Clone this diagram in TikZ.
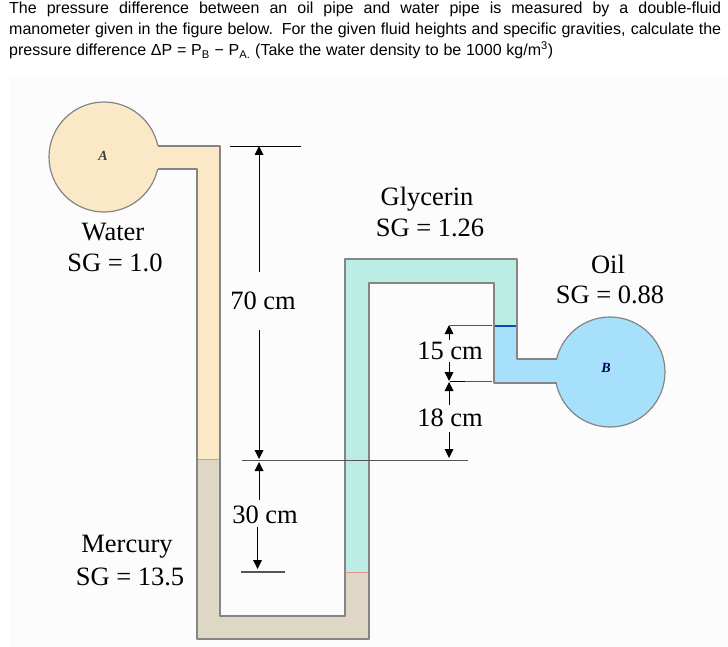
\documentclass[tikz,border=0pt]{standalone}
\usepackage{fontspec}
\setmainfont{Liberation Serif}
\newfontfamily\headfont{Liberation Sans}
\definecolor{waterc}{HTML}{FBE8C6}
\definecolor{glycc}{HTML}{BCEDE4}
\definecolor{oilc}{HTML}{A6E0FA}
\definecolor{mercc}{HTML}{DFD7C5}
\definecolor{wallc}{HTML}{858585}
\definecolor{dimc}{HTML}{555555}

\begin{document}
\begin{tikzpicture}[x=1pt,y=1pt]
\tikzstyle{every node}+=[inner sep=0pt]
\tikzstyle{lab}=[font=\fontsize{26.5}{26.5}\selectfont]
\tikzstyle{wall}=[draw=wallc,line width=1.2pt,line join=round]
\tikzstyle{dimline}=[black,line width=0.8pt]
\tikzstyle{refline}=[dimc,line width=1.7pt]
\tikzstyle{tank}=[circle,draw=wallc,line width=1.2pt,minimum size=110pt]
\tikzstyle{tanklab}=[font=\fontsize{14}{14}\selectfont\bfseries\itshape]
\useasboundingbox (0,-647) rectangle (728,0);
\fill [white] (0,-647) rectangle (728,0);
\fill [black!1] (10,-647) rectangle (728,-78);
\node (head) [anchor=north west,text width=712pt,align=justify,font=\headfont\fontsize{16}{21.2}\selectfont] at (9,-1.5)
{\spaceskip=0.23em plus 10em minus 0.03em
The pressure difference between an oil pipe and water pipe is measured by a double-fluid\linebreak
manometer given in the figure below. For the given fluid heights and specific gravities, calculate the\linebreak
\makebox[544pt][s]{pressure difference ΔP = P\textsubscript{B} − P\textsubscript{A.} (Take the water density to be 1000 kg/m\textsuperscript{3})}};
% tanks
\node (tankA) [tank,fill=waterc] at (104,-157) {};
\node (tankB) [tank,fill=oilc] at (610,-372) {};
\node (labA) [tanklab,text=black!75] at (103,-156) {A};
\node (labB) [tanklab,text=blue!35!black] at (606,-368) {B};
% fluids
\fill [waterc] (150,-146) -- (220,-146) -- (220,-459) -- (197,-459) -- (197,-169) -- (150,-169) -- cycle;
\fill [mercc] (197,-459) -- (220,-459) -- (220,-616) -- (345,-616) -- (345,-572) -- (369,-572) -- (369,-639) -- (197,-639) -- cycle;
\fill [glycc] (345,-572) -- (345,-259) -- (517,-259) -- (517,-326) -- (494,-326) -- (494,-283) -- (369,-283) -- (369,-572) -- cycle;
\fill [oilc] (494,-326) -- (517,-326) -- (517,-359) -- (562,-359) -- (562,-383) -- (494,-383) -- cycle;
\draw [red!30!mercc,line width=1pt] (197,-459) -- (220,-459);
\draw [red!30!mercc,line width=1pt] (345,-572) -- (369,-572);
\draw [blue!55!cyan!70!black,line width=1.2pt] (494,-326) -- (517,-326);
% tube walls
\draw [wall] (158,-146) -- (220,-146) -- (220,-616) -- (345,-616) -- (345,-259) -- (517,-259) -- (517,-359) -- (557,-359);
\draw [wall] (158,-169) -- (197,-169) -- (197,-639) -- (369,-639) -- (369,-283) -- (494,-283) -- (494,-383) -- (557,-383);
% reference lines
\draw [black,line width=0.7pt] (230,-146) -- (301,-146);
\draw [refline] (242,-460.5) -- (468,-460.5);
\draw [refline] (241,-572) -- (285,-572);
\draw [refline] (450,-325.5) -- (492,-325.5);
\draw [black,line width=0.6pt] (450,-381.5) -- (465,-381.5);
\draw [refline] (465,-381.5) -- (492,-381.5);
% dimension arrows
\draw [dimline] (259,-272) -- (259,-150);
\fill [black] (259,-146) -- (254.5,-155) -- (263.5,-155) -- cycle;
\draw [dimline] (259,-330) -- (259,-452);
\fill [black] (259,-459) -- (254.5,-450) -- (263.5,-450) -- cycle;
\draw [dimline] (259,-500) -- (259,-468);
\fill [black] (259,-462) -- (254.5,-471) -- (263.5,-471) -- cycle;
\draw [dimline] (257.5,-527) -- (257.5,-562);
\fill [black] (257.5,-569) -- (253,-560) -- (262,-560) -- cycle;
\draw [dimline] (449,-340) -- (449,-332);
\fill [black] (449,-325) -- (444.5,-334) -- (453.5,-334) -- cycle;
\draw [dimline] (449,-362) -- (449,-374);
\fill [black] (449,-381) -- (444.5,-372) -- (453.5,-372) -- cycle;
\draw [dimline] (449,-405) -- (449,-389);
\fill [black] (449,-382) -- (444.5,-391) -- (453.5,-391) -- cycle;
\draw [dimline] (449,-432) -- (449,-450);
\fill [black] (449,-458) -- (444.5,-449) -- (453.5,-449) -- cycle;
% labels
\node (water) [lab] at (113,-232) {Water};
\node (watersg) [lab] at (115,-263) {SG = 1.0};
\node (glyc) [lab] at (427,-199) {Glycerin};
\node (glycsg) [lab] at (430,-228) {SG = 1.26};
\node (oil) [lab] at (608,-264) {Oil};
\node (oilsg) [lab] at (610,-295) {SG = 0.88};
\node (merc) [lab] at (127,-547) {Mercury};
\node (mercsg) [lab] at (130,-577) {SG = 13.5};
\node (dimA) [lab] at (263,-301) {70 cm};
\node (dimB) [lab] at (265,-515) {30 cm};
\node (dimC) [lab] at (450,-351) {15 cm};
\node (dimD) [lab] at (450,-418) {18 cm};
\end{tikzpicture}
\end{document}
